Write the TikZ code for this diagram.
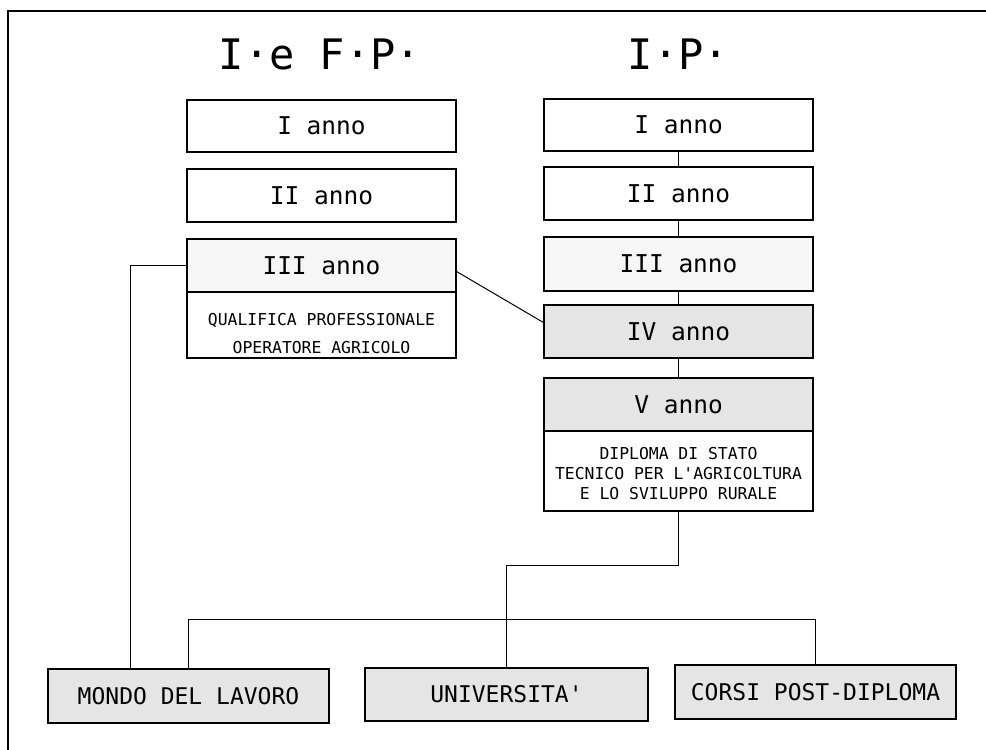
\documentclass[tikz,border=0pt]{standalone}
\usepackage{fontspec}
\setmonofont{DejaVu Sans Mono}
\begin{document}
\begin{tikzpicture}[x=1pt,y=-1pt,
  yearbox/.style={draw, line width=1.1pt, minimum width=269pt, inner sep=0pt,
    font=\ttfamily\fontsize{24.5}{29}\selectfont, text height=17.9pt, text depth=0pt},
  lightbox/.style={yearbox, fill=gray!7},
  shadebox/.style={yearbox, fill=gray!20},
  outbox/.style={draw, line width=1.1pt, inner sep=0pt, fill=gray!20, minimum height=54pt,
    font=\ttfamily\fontsize{23}{28}\selectfont, text height=16.8pt, text depth=0pt},
  smalltext/.style={font=\ttfamily\fontsize{16.4}{28}\selectfont, align=center, inner sep=0pt},
  titletext/.style={font=\ttfamily\fontsize{42}{48}\selectfont, inner sep=0pt, text height=30.6pt, text depth=0pt},
  link/.style={line width=1pt}]
\useasboundingbox (0,0) rectangle (986,750);
% frame
\draw[line width=2pt] (8,750) -- (8,11) -- (986,11);
% titles
\node[titletext] (t1) at (320,54.5) {I\raisebox{0.3em}{.}e F\raisebox{0.3em}{.}P\raisebox{0.3em}{.}};
\node[titletext] (t2) at (678.5,54.5) {I\raisebox{0.3em}{.}P\raisebox{0.3em}{.}};
% left column
\node[yearbox, minimum height=52pt] (lI) at (321.5,126) {I anno};
\node[yearbox, minimum height=53pt] (lII) at (321.5,195.5) {II anno};
\node[lightbox, minimum height=53pt] (lIII) at (321.5,265.5) {III anno};
\node[yearbox, minimum height=66pt] (lQ) at (321.5,325) {};
\node[smalltext] (lQt) at (321.5,333.5) {QUALIFICA PROFESSIONALE\\OPERATORE AGRICOLO};
% right column
\node[yearbox, minimum height=52pt] (rI) at (678.5,125) {I anno};
\node[yearbox, minimum height=53pt] (rII) at (678.5,193.5) {II anno};
\node[lightbox, minimum height=54pt] (rIII) at (678.5,264) {III anno};
\node[shadebox, minimum height=53pt] (rIV) at (678.5,331.5) {IV anno};
\node[shadebox, minimum height=53pt] (rV) at (678.5,404.5) {V anno};
\node[yearbox, minimum height=80pt] (rD) at (678.5,471) {};
\node[smalltext, font=\ttfamily\fontsize{16.4}{20}\selectfont] (rDt) at (678.5,474) {DIPLOMA DI STATO\\TECNICO PER L'AGRICOLTURA\\E LO SVILUPPO RURALE};
% outputs
\node[outbox, minimum width=281pt] (mondo) at (188.5,696) {MONDO DEL LAVORO};
\node[outbox, minimum width=283pt, minimum height=53pt] (uni) at (506.5,694.5) {UNIVERSITA'};
\node[outbox, minimum width=281pt] (corsi) at (815.5,692) {CORSI POST-DIPLOMA};
% helper coordinates
\coordinate (lx) at (130,0);
\coordinate (barY) at (0,619);
\coordinate (elbY) at (0,565);
% right column links
\draw[link] (rI) -- (rII);
\draw[link] (rII) -- (rIII);
\draw[link] (rIII) -- (rIV);
\draw[link] (rIV) -- (rV);
% diagonal
\draw[link] ([yshift=-6pt]lIII.east) -- ([yshift=9pt]rIV.west);
% left to mondo
\draw[link] (lIII.west) -- (lIII.west -| lx) -- (mondo.north -| lx);
% diploma to bar
\draw[link] (rD.south) -- (rD.south |- elbY) -- (uni.north |- elbY) -- (uni.north);
\draw[link] (mondo.north) -- (mondo.north |- barY) -- (corsi.north |- barY) -- (corsi.north);
\end{tikzpicture}
\end{document}
